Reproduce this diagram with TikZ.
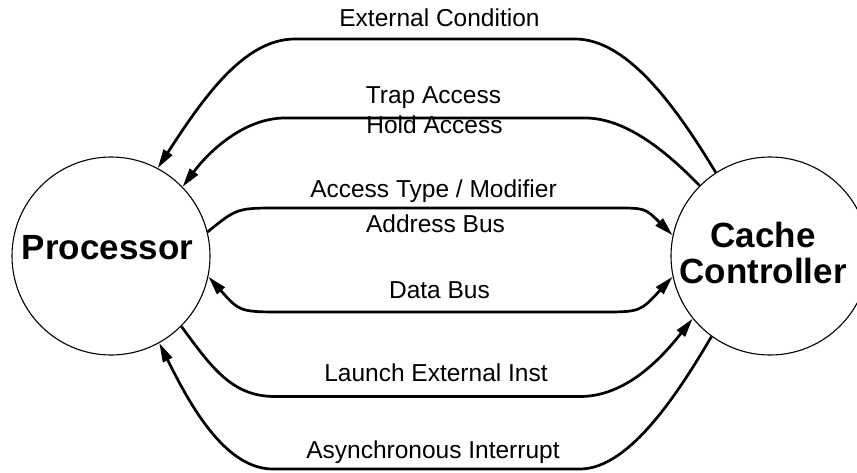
\documentclass[tikz,border=0pt]{standalone}
\usepackage{fontspec}
\setmainfont{Liberation Sans}
\usetikzlibrary{arrows.meta}
\begin{document}
\begin{tikzpicture}[x=1pt,y=-1pt,
  blob/.style={draw, circle, line width=1.1pt, minimum size=198pt, inner sep=0pt},
  big/.style={font=\fontsize{35}{36}\selectfont\bfseries, anchor=base, inner sep=0pt},
  lbl/.style={font=\fontsize{24.5}{29}\selectfont, anchor=base, inner sep=0pt},
  tip/.tip={Triangle[length=19pt,width=10pt]},
  conn/.style={line width=2.7pt, -tip},
  both/.style={line width=2.7pt, tip-tip}]
\fill[white] (0,0) rectangle (857,472);
\useasboundingbox (0,0) rectangle (857,472);
% circles
\node[blob] (proc) at (111,256) {};
\node[blob] (cache) at (770,256) {};
\node[big] (proctxt) at (107.5,259) {Processor};
\node[big] (cachetxt1) at (763,247) {Cache};
\node[big] (cachetxt2) at (763,283) {Controller};
% labels
\node[lbl] (l1) at (439.5,26) {External Condition};
\node[lbl] (l2) at (433.5,103) {Trap Access};
\node[lbl] (l3) at (434.5,133) {Hold Access};
\node[lbl] (l4) at (433.5,197) {Access Type / Modifier};
\node[lbl] (l5) at (435.5,232) {Address Bus};
\node[lbl] (l6) at (439.5,298) {Data Bus};
\node[lbl] (l7) at (436,381) {Launch External Inst};
\node[lbl] (l8) at (433,458) {Asynchronous Interrupt};
% connectors
\draw[conn] (cache.123) .. controls (672,100) and (625,39) .. (575,39) -- (295,39)
   .. controls (245,39) and (205,95) .. (proc.62.6);
\draw[conn] (cache.135) .. controls (665,150) and (625,118) .. (585,118) -- (285,118)
   .. controls (245,118) and (210,150) .. (proc.44.6);
\draw[conn] (proc.14) .. controls (237,208) .. (280,208) -- (615,208)
   .. controls (645,208) .. (cache.168.3);
\draw[both] (proc.-12.7) .. controls (240,312) .. (285,312) -- (600,312)
   .. controls (640,312) .. (cache.192);
\draw[conn] (proc.-45.8) .. controls (212,368) and (232,396.5) .. (275,396.5) -- (580,396.5)
   .. controls (625,396.5) and (660,360) .. (cache.219);
\draw[conn] (cache.234.9) .. controls (680,390) and (630,469) .. (580,469) -- (273,469)
   .. controls (225,469) and (190,405) .. (proc.-61.8);
\end{tikzpicture}
\end{document}
